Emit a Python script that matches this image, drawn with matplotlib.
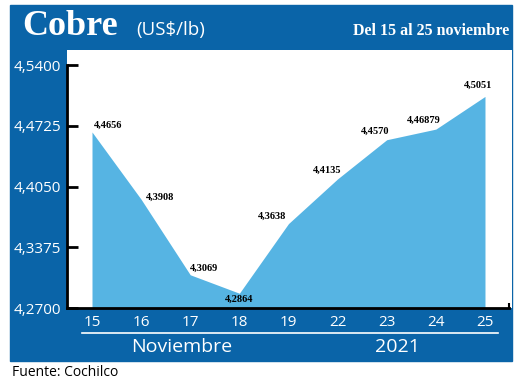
import numpy as np
import matplotlib.pyplot as plt
from matplotlib.patches import Rectangle
from matplotlib.lines import Line2D

# datos
dias = ["15", "16", "17", "18", "19", "22", "23", "24", "25"]
precios = [4.4656, 4.3908, 4.3069, 4.2864, 4.3638, 4.4135, 4.4570, 4.46879, 4.5051]
etiquetas = ["4,4656", "4,3908", "4,3069", "4,2864", "4,3638", "4,4135", "4,4570", "4,46879", "4,5051"]
yticks = [4.27, 4.3375, 4.405, 4.4725, 4.54]
ytick_labels = ["4,2700", "4,3375", "4,4050", "4,4725", "4,5400"]

# desplazamiento de etiquetas (pixeles)
offsets = [(16, 7), (19, 2), (14, 6), (0, -6), (-16, 7), (-10, 9), (-12, 8), (-12, 9), (-7, 11)]

azul = "#0A64A8"
celeste = "#56B4E3"
W, H = 520, 387

def fx(x):
    return x / W

def fy(y):
    return 1 - y / H

fig = plt.figure(figsize=(5.2, 3.87), dpi=100)
fig.patch.set_facecolor("white")

# marco azul
fondo = Rectangle((fx(10), fy(361)), (512 - 10) / W, (361 - 5) / H,
                  transform=fig.transFigure, color=azul, zorder=-5)
fig.add_artist(fondo)

ax = fig.add_axes([fx(67), fy(308), (512 - 67) / W, (308 - 50) / H])
ax.set_facecolor("white")
ax.set_zorder(2)

x = np.arange(len(dias))
ax.fill_between(x, 4.27, precios, color=celeste, lw=0, zorder=1)
ax.set_xlim(-0.509, 8.55)
ax.set_ylim(4.27, 4.5567)

for s in ["top", "right"]:
    ax.spines[s].set_visible(False)
ax.spines["left"].set_bounds(4.27, 4.54)
ax.spines["left"].set_linewidth(2)
ax.spines["bottom"].set_bounds(-0.509, 8.49)
ax.spines["bottom"].set_linewidth(2)
ax.vlines(8.49, 4.27, 4.276, color="black", lw=1.5, clip_on=False)

ax.set_yticks(yticks, labels=ytick_labels)
ax.tick_params(axis="y", direction="in", length=8, width=2, color="black",
               labelcolor="white", labelsize=11, pad=4)
ax.set_xticks(x, labels=dias)
ax.tick_params(axis="x", length=0, labelcolor="white", labelsize=11, pad=5)
for lab in ax.get_xticklabels() + ax.get_yticklabels():
    lab.set_family("Open Sans")

for xi, yi, t, (dx, dy) in zip(x, precios, etiquetas, offsets):
    ax.annotate(t, (xi, yi), xytext=(dx, dy), textcoords="offset pixels",
                ha="center", va="center", fontsize=7.5, fontweight="bold",
                family="Liberation Serif", color="black")

# cabecera
fig.text(fx(22), fy(35), "Cobre", color="white", fontsize=26, fontweight="bold",
         family="Liberation Serif", va="baseline")
fig.text(fx(136), fy(35), "(US$/lb)", color="white", fontsize=13.5,
         family="Open Sans", va="baseline")
fig.text(fx(509), fy(35), "Del 15 al 25 noviembre", color="white", fontsize=11.5,
         fontweight="bold", family="Liberation Serif", ha="right", va="baseline")

# banda inferior
fig.add_artist(Line2D([fx(82), fx(498)], [fy(333), fy(333)], color="white", lw=1.2))
fig.text(fx(182), fy(347), "Noviembre", color="white", fontsize=14,
         family="Open Sans", ha="center", va="center")
fig.text(fx(397), fy(347), "2021", color="white", fontsize=14,
         family="Open Sans", ha="center", va="center")

fig.text(fx(12), fy(372), "Fuente: Cochilco", color="black", fontsize=10,
         family="Open Sans", va="center")

fig.savefig("out.png", dpi=100)
